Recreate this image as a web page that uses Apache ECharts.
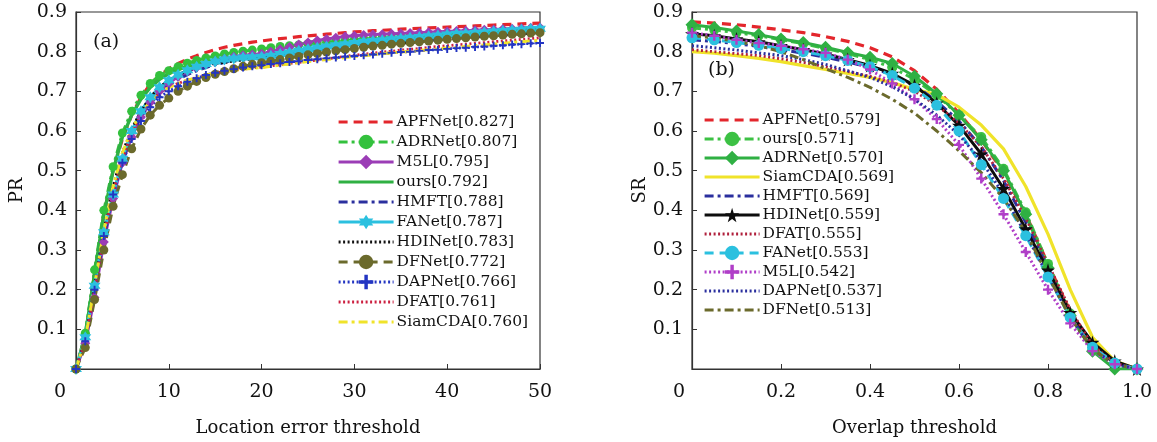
<!DOCTYPE html>
<html><head><meta charset="utf-8">
<script src="https://cdn.jsdelivr.net/npm/echarts@6/dist/echarts.min.js"></script>
<style>html,body{margin:0;padding:0;background:#fff}#c{width:1157px;height:442px}</style>
</head><body><div id="c"></div>
<script>
// ---------- (a) precision plot ----------
const thrA = [0,1,2,3,4,5,6,7,8,9,10,11,12,13,14,15,16,17,18,19,20,21,22,23,24,25,26,27,28,29,30,31,32,33,34,35,36,37,38,39,40,41,42,43,44,45,46,47,48,49,50];
const a_APFNet = [0,0.085,0.24,0.39,0.50,0.58,0.64,0.685,0.718,0.74,0.757,0.77,0.781,0.79,0.798,0.805,0.811,0.816,0.82,0.824,0.827,0.83,0.833,0.835,0.838,0.84,0.842,0.844,0.846,0.848,0.85,0.851,0.853,0.854,0.855,0.857,0.858,0.859,0.86,0.861,0.862,0.863,0.864,0.865,0.866,0.867,0.868,0.869,0.87,0.871,0.872];
const a_ADRNet = [0,0.09,0.25,0.40,0.51,0.595,0.65,0.69,0.72,0.74,0.752,0.762,0.771,0.778,0.784,0.789,0.794,0.798,0.801,0.804,0.807,0.81,0.813,0.815,0.817,0.82,0.822,0.824,0.826,0.828,0.83,0.832,0.833,0.835,0.836,0.838,0.839,0.841,0.842,0.843,0.845,0.846,0.847,0.848,0.85,0.851,0.852,0.853,0.854,0.855,0.856];
const a_M5L = [0,0.065,0.18,0.32,0.43,0.52,0.585,0.635,0.672,0.70,0.72,0.737,0.75,0.76,0.769,0.776,0.782,0.787,0.791,0.793,0.795,0.80,0.806,0.812,0.818,0.823,0.828,0.832,0.835,0.838,0.84,0.842,0.843,0.844,0.845,0.846,0.847,0.848,0.849,0.85,0.851,0.852,0.853,0.854,0.855,0.856,0.857,0.858,0.859,0.86,0.861];
const a_ours = [0,0.085,0.24,0.39,0.50,0.585,0.64,0.68,0.71,0.73,0.745,0.755,0.763,0.77,0.775,0.779,0.782,0.785,0.788,0.79,0.792,0.795,0.798,0.80,0.803,0.806,0.808,0.811,0.813,0.816,0.818,0.82,0.822,0.824,0.826,0.828,0.83,0.832,0.834,0.836,0.838,0.84,0.842,0.844,0.846,0.848,0.85,0.852,0.854,0.856,0.858];
const a_HMFT = [0,0.07,0.20,0.33,0.44,0.525,0.59,0.635,0.67,0.695,0.715,0.73,0.742,0.752,0.76,0.767,0.773,0.778,0.782,0.785,0.788,0.791,0.794,0.797,0.80,0.802,0.805,0.807,0.81,0.812,0.814,0.816,0.818,0.82,0.822,0.824,0.826,0.827,0.829,0.831,0.833,0.834,0.836,0.837,0.839,0.84,0.842,0.843,0.845,0.846,0.848];
const a_FANet = [0,0.08,0.21,0.345,0.44,0.53,0.60,0.65,0.685,0.71,0.728,0.742,0.753,0.762,0.769,0.775,0.78,0.783,0.785,0.786,0.787,0.79,0.794,0.798,0.802,0.806,0.81,0.813,0.816,0.819,0.822,0.825,0.827,0.829,0.831,0.833,0.835,0.837,0.839,0.841,0.843,0.845,0.846,0.848,0.849,0.851,0.852,0.854,0.855,0.857,0.858];
const a_HDINet = [0,0.075,0.21,0.35,0.46,0.545,0.605,0.65,0.685,0.71,0.728,0.741,0.752,0.76,0.767,0.77,0.773,0.776,0.779,0.781,0.783,0.786,0.789,0.792,0.795,0.798,0.80,0.803,0.806,0.808,0.81,0.813,0.815,0.817,0.819,0.821,0.823,0.825,0.827,0.829,0.831,0.833,0.835,0.836,0.838,0.84,0.842,0.843,0.845,0.847,0.848];
const a_DFNet = [0,0.054,0.175,0.30,0.41,0.49,0.555,0.605,0.64,0.665,0.683,0.70,0.713,0.725,0.735,0.743,0.75,0.757,0.763,0.768,0.772,0.776,0.78,0.784,0.788,0.792,0.795,0.799,0.802,0.805,0.808,0.811,0.814,0.816,0.819,0.821,0.823,0.825,0.827,0.829,0.831,0.833,0.835,0.837,0.839,0.84,0.842,0.844,0.845,0.847,0.848];
const a_DAPNet = [0,0.07,0.20,0.335,0.44,0.52,0.58,0.625,0.66,0.685,0.70,0.713,0.724,0.733,0.741,0.747,0.752,0.756,0.76,0.763,0.766,0.769,0.771,0.774,0.776,0.779,0.781,0.783,0.785,0.787,0.789,0.791,0.793,0.795,0.797,0.799,0.80,0.802,0.804,0.805,0.807,0.809,0.81,0.812,0.813,0.815,0.816,0.818,0.819,0.821,0.822];
const a_DFAT = [0,0.07,0.20,0.335,0.445,0.53,0.595,0.64,0.672,0.695,0.71,0.72,0.728,0.735,0.741,0.746,0.75,0.753,0.756,0.759,0.761,0.764,0.767,0.77,0.773,0.776,0.779,0.782,0.785,0.788,0.791,0.794,0.796,0.799,0.801,0.804,0.806,0.808,0.811,0.813,0.815,0.817,0.819,0.821,0.823,0.825,0.827,0.829,0.831,0.833,0.835];
const a_SiamCDA = [0,0.075,0.21,0.35,0.46,0.545,0.605,0.645,0.675,0.695,0.71,0.72,0.728,0.735,0.741,0.746,0.75,0.753,0.756,0.758,0.76,0.763,0.766,0.769,0.772,0.775,0.778,0.78,0.783,0.785,0.788,0.79,0.792,0.795,0.797,0.799,0.801,0.803,0.805,0.807,0.809,0.811,0.813,0.815,0.817,0.819,0.821,0.823,0.825,0.827,0.829];

// ---------- (b) success plot ----------
const thrB = [0,0.05,0.1,0.15,0.2,0.25,0.3,0.35,0.4,0.45,0.5,0.55,0.6,0.65,0.7,0.75,0.8,0.85,0.9,0.95,1.0];
const b_APFNet = [0.875,0.872,0.868,0.862,0.855,0.848,0.838,0.826,0.81,0.787,0.752,0.705,0.645,0.578,0.495,0.39,0.265,0.145,0.058,0.015,0];
const b_ours = [0.86,0.855,0.848,0.84,0.83,0.82,0.808,0.795,0.78,0.76,0.73,0.69,0.64,0.585,0.505,0.395,0.265,0.14,0.05,0.01,0];
const b_ADRNet = [0.868,0.861,0.852,0.843,0.832,0.823,0.811,0.798,0.786,0.77,0.738,0.694,0.64,0.578,0.50,0.39,0.255,0.135,0.045,0.0,0];
const b_SiamCDA = [0.80,0.796,0.79,0.783,0.775,0.765,0.755,0.745,0.735,0.722,0.705,0.692,0.66,0.615,0.555,0.46,0.34,0.20,0.08,0.02,0];
const b_HMFT = [0.83,0.826,0.82,0.813,0.805,0.796,0.786,0.774,0.76,0.742,0.715,0.675,0.625,0.56,0.475,0.37,0.255,0.14,0.058,0.015,0];
const b_HDINet = [0.845,0.84,0.832,0.825,0.815,0.805,0.794,0.78,0.765,0.745,0.715,0.67,0.614,0.542,0.455,0.353,0.249,0.142,0.067,0.02,0];
const b_DFAT = [0.805,0.80,0.795,0.79,0.782,0.773,0.762,0.75,0.738,0.722,0.70,0.665,0.62,0.56,0.48,0.38,0.265,0.15,0.06,0.015,0];
const b_FANet = [0.835,0.83,0.823,0.816,0.808,0.80,0.79,0.778,0.762,0.74,0.708,0.665,0.60,0.515,0.43,0.336,0.232,0.13,0.055,0.015,0];
const b_M5L = [0.848,0.84,0.83,0.822,0.815,0.806,0.797,0.78,0.755,0.72,0.68,0.63,0.565,0.48,0.39,0.295,0.20,0.115,0.045,0.012,0];
const b_DAPNet = [0.815,0.81,0.804,0.797,0.79,0.78,0.768,0.752,0.735,0.712,0.68,0.64,0.59,0.525,0.44,0.34,0.235,0.13,0.05,0.012,0];
const b_DFNet = [0.84,0.835,0.826,0.815,0.80,0.78,0.757,0.735,0.71,0.68,0.645,0.60,0.55,0.495,0.43,0.345,0.235,0.13,0.05,0.012,0];

const STAR = 'path://M50,0 L61,35 L98,35 L68,57 L79,91 L50,70 L21,91 L32,57 L2,35 L39,35 Z';
const HEX = 'path://M50,0 L64,25 L93,25 L78,50 L93,75 L64,75 L50,100 L36,75 L7,75 L22,50 L7,25 L36,25 Z';
const PLUS = 'path://M38,0 H62 V38 H100 V62 H62 V100 H38 V62 H0 V38 H38 Z';

const FONT = 'DejaVu Serif';
const DASH = [9,6], DASHDOT = [9,4,3,4], DOT = [2,2.5];

function pairs(xs, ys){ return xs.map((x,i)=>[x, ys[i]]); }
function ser(name, idx, xs, ys, color, type, width, symbol, size){
  return {
    name, type:'line', xAxisIndex: idx, yAxisIndex: idx,
    data: pairs(xs, ys),
    symbol: symbol || 'circle', symbolSize: symbol ? (size || 8) : 0, showSymbol: !!symbol,
    lineStyle: {color, width, type},
    itemStyle: {color: symbol ? color : 'rgba(0,0,0,0)', borderWidth: 0},
    emphasis: {disabled: true},
    animation: false, z: 3
  };
}

const seriesA = [
  ser('APFNet[0.827]',0,thrA,a_APFNet,'#e3262c',DASH,3.2),
  ser('ADRNet[0.807]',0,thrA,a_ADRNet,'#33c13d',DASHDOT,3,'circle',9),
  ser('M5L[0.795]',0,thrA,a_M5L,'#9b3db6','solid',3,'diamond',10),
  ser('ours[0.792]',0,thrA,a_ours,'#2fb043','solid',3.4),
  ser('HMFT[0.788]',0,thrA,a_HMFT,'#2a2f9e',DASHDOT,3),
  ser('FANet[0.787]',0,thrA,a_FANet,'#2bc0df','solid',3,HEX,12),
  ser('HDINet[0.783]',0,thrA,a_HDINet,'#111111',DOT,2.8),
  ser('DFNet[0.772]',0,thrA,a_DFNet,'#6b6a2c',DASH,3,'circle',9),
  ser('DAPNet[0.766]',0,thrA,a_DAPNet,'#2335c2',DOT,2.8,PLUS,8),
  ser('DFAT[0.761]',0,thrA,a_DFAT,'#cc2040',DOT,2.8),
  ser('SiamCDA[0.760]',0,thrA,a_SiamCDA,'#f0e32a',DASHDOT,3)
];
const seriesB = [
  ser('APFNet[0.579]',1,thrB,b_APFNet,'#e3262c',DASH,3.2),
  ser('ours[0.571]',1,thrB,b_ours,'#3cc144',DASHDOT,3,'circle',10),
  ser('ADRNet[0.570]',1,thrB,b_ADRNet,'#2fb043','solid',3,'diamond',13),
  ser('SiamCDA[0.569]',1,thrB,b_SiamCDA,'#f0e32a','solid',3.2),
  ser('HMFT[0.569]',1,thrB,b_HMFT,'#2a2f9e',DASHDOT,3),
  ser('HDINet[0.559]',1,thrB,b_HDINet,'#0d0d0d','solid',3,STAR,14),
  ser('DFAT[0.555]',1,thrB,b_DFAT,'#b0203c',DOT,2.8),
  ser('FANet[0.553]',1,thrB,b_FANet,'#2bc0df',DASH,3,'circle',11),
  ser('M5L[0.542]',1,thrB,b_M5L,'#b03ec8',DOT,3,PLUS,10),
  ser('DAPNet[0.537]',1,thrB,b_DAPNet,'#2a2f9e',DOT,3),
  ser('DFNet[0.513]',1,thrB,b_DFNet,'#6b6a2c',DASHDOT,3)
];

const axisLineStyle = {show:true, lineStyle:{color:'#333', width:1.2}};
const tickStyle = {show:true, inside:true, length:5, lineStyle:{color:'#333', width:1}};
const labelBase = {color:'#111', fontFamily: FONT, fontSize: 19};

function xAxisDef(idx, max, interval, name, zeroPad, fmt){
  return {
    type:'value', gridIndex: idx, min:0, max, interval,
    name, nameLocation:'middle', nameGap: 50,
    nameTextStyle:{color:'#111', fontFamily: FONT, fontSize: 18},
    axisLine: axisLineStyle, axisTick: tickStyle, splitLine:{show:false},
    axisLabel: Object.assign({}, labelBase, {
      margin: 14,
      formatter: v => v === 0 ? '{o|0}' : fmt(v),
      rich: {o: {fontFamily: FONT, fontSize: 19, color:'#111', padding:[0, zeroPad, 0, 0]}}
    })
  };
}
function yAxisDef(idx, name, gap){
  return {
    type:'value', gridIndex: idx, min:0, max:0.9, interval:0.1,
    name, nameLocation:'middle', nameGap: gap,
    nameTextStyle:{color:'#111', fontFamily: FONT, fontSize: 18},
    axisLine: axisLineStyle, axisTick: tickStyle, splitLine:{show:false},
    axisLabel: Object.assign({}, labelBase, {
      margin: 9,
      formatter: v => Math.abs(v) < 1e-9 ? '' : v.toFixed(1)
    })
  };
}

const legendCommon = {
  orient:'vertical', itemWidth: 55, itemHeight: 18,
  backgroundColor:'transparent', borderWidth:0, padding: 0,
  lineStyle: {width: 3.2},
  textStyle:{color:'#111', fontFamily: FONT, fontSize: 15.5, lineHeight: 16, padding:[0,0,0,-2]},
  selectedMode: false
};

const option = {
  backgroundColor:'#fff',
  animation:false,
  textStyle:{fontFamily: FONT},
  title: [
    {text:'(a)', left: 88, top: 28, textStyle:{fontFamily: FONT, fontSize: 19, fontWeight:'normal', color:'#111'}},
    {text:'(b)', left: 703, top: 56, textStyle:{fontFamily: FONT, fontSize: 19, fontWeight:'normal', color:'#111'}}
  ],
  grid: [
    {left: 76, top: 12, width: 464, height: 362, show:true, borderColor:'#333', borderWidth:1.2, backgroundColor:'transparent'},
    {left: 692, top: 12, width: 445, height: 362, show:true, borderColor:'#333', borderWidth:1.2, backgroundColor:'transparent'}
  ],
  xAxis: [
    xAxisDef(0, 50, 10, 'Location error threshold', 32, v => String(v)),
    xAxisDef(1, 1, 0.2, 'Overlap threshold', 26, v => v === 1 ? '1.0' : v.toFixed(1))
  ],
  yAxis: [ yAxisDef(0, 'PR', 50), yAxisDef(1, 'SR', 40) ],
  legend: [
    Object.assign({}, legendCommon, {left: 337, top: 114, itemGap: 4, data: seriesA.map(s=>s.name)}),
    Object.assign({}, legendCommon, {left: 703, top: 112, itemGap: 3, data: seriesB.map(s=>s.name)})
  ],
  series: seriesA.concat(seriesB)
};

const chart = echarts.init(document.getElementById('c'), null, {renderer:'canvas'});
chart.setOption(option);
</script>
</body></html>
